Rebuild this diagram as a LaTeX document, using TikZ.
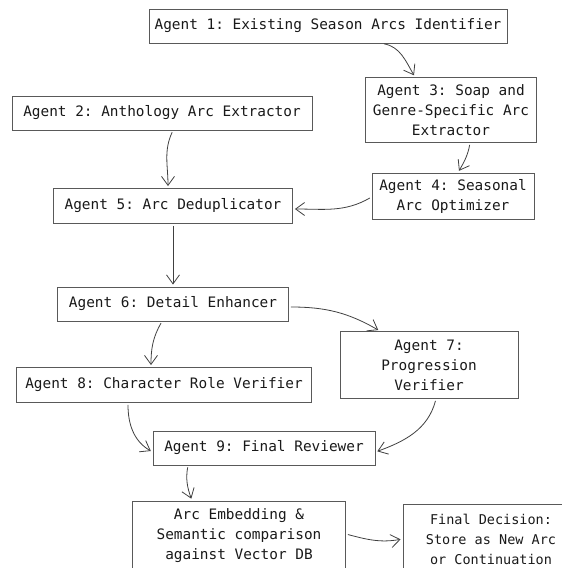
\documentclass[tikz,border=0pt]{standalone}
\usepackage{fontspec}
\setmonofont{DejaVu Sans Mono}
\usepackage{tikz}
\usetikzlibrary{arrows.meta}

\begin{document}
\begin{tikzpicture}[x=1pt,y=-1pt]
  \tikzstyle{box}=[rectangle,draw=black!65,line width=0.9pt,text=black!90,align=center,inner sep=0pt,font=\fontsize{14.4}{20}\selectfont\ttfamily]
  \tikzstyle{flow}=[draw=black!75,line width=0.8pt,shorten >=2pt,shorten <=2pt,-{Straight Barb[length=9pt,width=13pt]}]
  \clip (0,0) rectangle (562,568);
  \node [box,minimum width=358,minimum height=34] (a1)  at (328,26)  {Agent 1: Existing Season Arcs Identifier};
  \node [box,minimum width=300,minimum height=34] (a2)  at (162,113) {Agent 2: Anthology Arc Extractor};
  \node [box,minimum width=171,minimum height=65] (a3)  at (451,110) {Agent 3: Soap and\\Genre-Specific Arc\\Extractor};
  \node [box,minimum width=162,minimum height=46] (a4)  at (453,196) {Agent 4: Seasonal\\Arc Optimizer};
  \node [box,minimum width=239,minimum height=35] (a5)  at (173,206) {Agent 5: Arc Deduplicator};
  \node [box,minimum width=231,minimum height=34] (a6)  at (173,304) {Agent 6: Detail Enhancer};
  \node [box,minimum width=178,minimum height=67] (a7)  at (429,365) {Agent 7:\\Progression\\Verifier};
  \node [box,minimum width=295,minimum height=35] (a8)  at (164,385) {Agent 8: Character Role Verifier};
  \node [box,minimum width=222,minimum height=34] (a9)  at (264,448) {Agent 9: Final Reviewer};
  \node [box,minimum width=213,minimum height=70] (emb) at (239,536) {Arc Embedding \&\\Semantic comparison\\against Vector DB};
  \node [box,minimum width=176,minimum height=70,font=\fontsize{13.5}{20}\selectfont\ttfamily] (dec) at (491,539) {Final Decision:\\Store as New Arc\\or Continuation};
  \draw [flow] ([xshift=54pt]a1.south) to [out=-10,in=120] ([xshift=-36pt]a3.north);
  \draw [flow] ([xshift=11pt]a2.south) to [out=-115,in=90] ([xshift=-5pt]a5.north);
  \draw [flow] ([xshift=19pt]a3.south) to [out=-100,in=60] ([xshift=5pt]a4.north);
  \draw [flow] ([yshift=-1pt]a4.west) to [out=-150,in=0] ([yshift=-3pt]a5.east);
  \draw [flow] (a5) -- (a6);
  \draw [flow] ([yshift=-3pt]a6.east) to [out=0,in=150] ([xshift=-49pt]a7.north);
  \draw [flow] ([xshift=-11pt]a6.south) to [out=-120,in=90] ([xshift=-13pt]a8.north);
  \draw [flow] ([xshift=-36pt]a8.south) to [out=-90,in=150] ([yshift=-4pt]a9.west);
  \draw [flow] ([xshift=7pt]a7.south) to [out=-105,in=20] ([yshift=-4pt]a9.east);
  \draw [flow] ([xshift=-76pt]a9.south) to [out=-100,in=110] ([xshift=-47pt]emb.north);
  \draw [flow] ([yshift=2pt]emb.east) to [out=-15,in=190] (dec.west);
\end{tikzpicture}
\end{document}
